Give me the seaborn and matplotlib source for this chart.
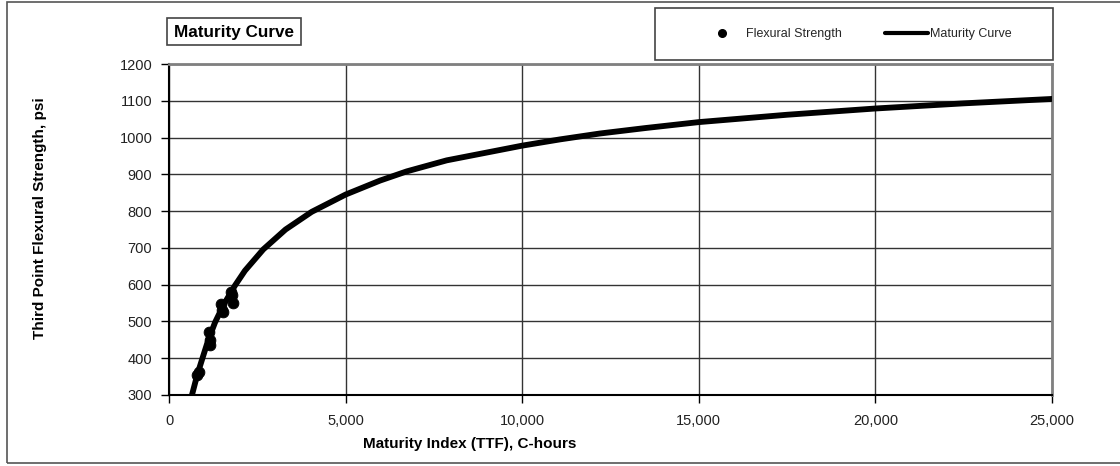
import numpy as np
import pandas as pd
import matplotlib
matplotlib.use("Agg")
import matplotlib.pyplot as plt
import matplotlib.ticker as mticker
from matplotlib.patches import Rectangle
from matplotlib.lines import Line2D
import seaborn as sns

test_ttf = [800, 850, 1130, 1150, 1160, 1480, 1500, 1540, 1760, 1790, 1800]
test_strength = [355, 362, 470, 450, 435, 548, 530, 525, 580, 572, 550]

# maturity curve points
curve_ttf = [650, 800, 954, 1100, 1302, 1550, 1870, 2150, 2670, 3300, 4040, 5000,
             5974, 6730, 7862, 10000, 11070, 12200, 13500, 15000, 17500, 20000, 22500, 25000]
curve_strength = [300, 355, 402, 446, 497, 546, 598, 638, 696, 750, 798, 845,
                  883, 908, 938, 978, 995, 1011, 1026, 1042, 1062, 1079, 1093, 1105]

y_ticks = [300, 400, 500, 600, 700, 800, 900, 1000, 1100, 1200]
x_ticks = [0, 5000, 10000, 15000, 20000, 25000]

df_pts = pd.DataFrame({"TTF": test_ttf, "Strength": test_strength})
df_curve = pd.DataFrame({"TTF": curve_ttf, "Strength": curve_strength})

sns.set_theme(style="white")
plt.rcParams['font.family'] = ['Liberation Sans', 'DejaVu Sans']

W, H = 1120, 466
fig = plt.figure(figsize=(W / 100, H / 100), dpi=100)
fig.patch.set_facecolor("white")
ax = fig.add_axes([169 / W, 1 - 395 / H, 883 / W, 331 / H])

sns.lineplot(data=df_curve, x="TTF", y="Strength", ax=ax, color="black",
             linewidth=4.2, estimator=None, sort=True, zorder=3)
sns.scatterplot(data=df_pts, x="TTF", y="Strength", ax=ax, color="black",
                s=60, marker="o", edgecolor="black", zorder=4)

ax.set_xlim(0, 25000)
ax.set_ylim(300, 1200)
ax.set_xticks(x_ticks)
ax.set_yticks(y_ticks)
ax.xaxis.set_major_formatter(mticker.StrMethodFormatter("{x:,.0f}"))
ax.grid(True, color="#333333", linewidth=1)
ax.set_axisbelow(True)
ax.tick_params(axis="both", which="major", direction="out", length=6, width=1,
               color="black", labelsize=10.5, labelcolor="#222222", left=True, bottom=True)
ax.tick_params(axis="x", pad=8)
ax.tick_params(axis="y", pad=6)

for side in ["left", "bottom"]:
    ax.spines[side].set_color("black")
    ax.spines[side].set_linewidth(1.5)
for side in ["top", "right"]:
    ax.spines[side].set_color("#808080")
    ax.spines[side].set_linewidth(2)

ax.set_xlabel("Maturity Index (TTF), C-hours", fontsize=11, fontweight="bold", color="black")
ax.set_ylabel("Third Point Flexural Strength, psi", fontsize=11, fontweight="bold", color="black")
ax.xaxis.set_label_coords(0.341, (395 - 437) / 331)
ax.yaxis.set_label_coords((47 - 169) / 883, 0.535)

# legend
handles = [Line2D([], [], color="black", marker="o", linestyle="none", markersize=5.5),
           Line2D([], [], color="black", linewidth=3)]
fig.legend(handles, ["Flexural Strength", "Maturity Curve"], loc="center",
           bbox_to_anchor=(856 / W, 1 - 34 / H), ncol=2, frameon=False, fontsize=9,
           handlelength=3.45, handletextpad=0.15, columnspacing=3.45)
fig.patches.append(Rectangle((655 / W, 1 - 60 / H), (1053 - 655) / W, 52 / H,
                             transform=fig.transFigure, fill=False, edgecolor="#444444",
                             linewidth=1.2))

# title box
fig.text(234 / W, 1 - 32 / H, "Maturity Curve", ha="center", va="center",
         fontsize=12.3, fontweight="bold", color="black")
fig.patches.append(Rectangle((167 / W, 1 - 45 / H), (301 - 167) / W, 27 / H,
                             transform=fig.transFigure, fill=False, edgecolor="#444444",
                             linewidth=1.2))

# outer border
fig.patches.append(Rectangle((7 / W, 1 - 463 / H), 1.0, (463 - 2) / H,
                             transform=fig.transFigure, fill=False, edgecolor="#555555",
                             linewidth=1.2))

fig.savefig("out.png", dpi=100)
